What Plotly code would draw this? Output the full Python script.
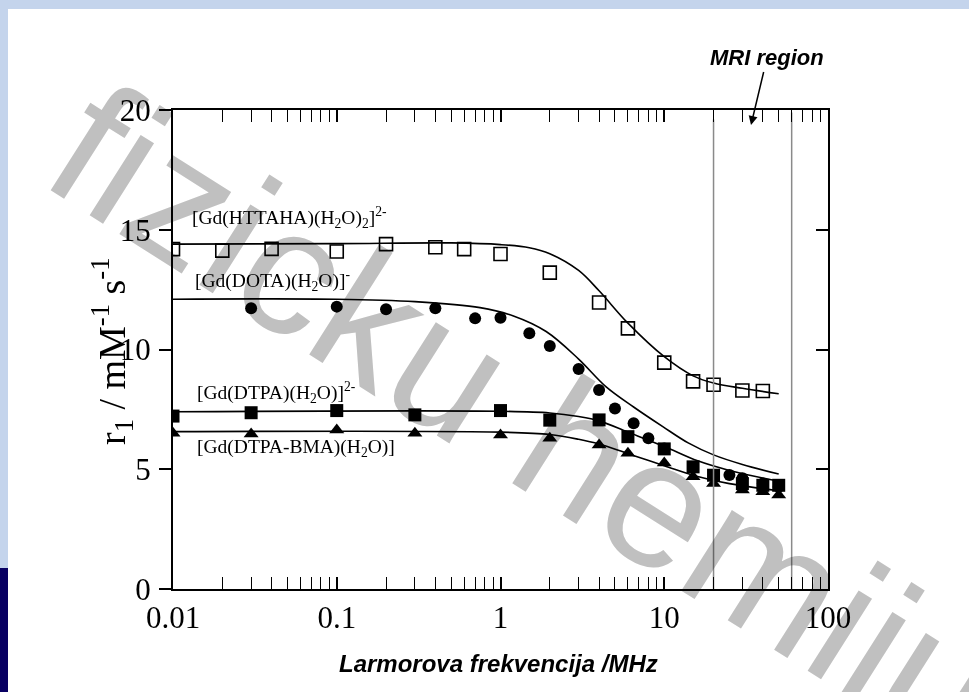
import plotly.graph_objects as go

# ---------------- data ----------------
freq_httaha = [0.01, 0.02, 0.04, 0.1, 0.2, 0.4, 0.6, 1, 2, 4, 6, 10, 15, 20, 30, 40]
r1_httaha = [14.19, 14.13, 14.2, 14.09, 14.4, 14.27, 14.19, 13.99, 13.21, 11.96, 10.88, 9.45, 8.67, 8.53, 8.29, 8.27]

freq_dota = [0.03, 0.1, 0.2, 0.4, 0.7, 1, 1.5, 2, 3, 4, 5, 6.5, 8, 10, 25, 30, 40, 50]
r1_dota = [11.72, 11.79, 11.68, 11.72, 11.3, 11.33, 10.68, 10.15, 9.19, 8.31, 7.54, 6.92, 6.29, 5.87, 4.76, 4.62, 4.41, 4.27]

freq_dtpa = [0.01, 0.03, 0.1, 0.3, 1, 2, 4, 6, 10, 15, 20, 30, 40, 50]
r1_dtpa = [7.22, 7.36, 7.45, 7.27, 7.45, 7.05, 7.06, 6.36, 5.85, 5.1, 4.75, 4.4, 4.33, 4.33]

freq_bma = [0.01, 0.03, 0.1, 0.3, 1, 2, 4, 6, 10, 15, 20, 30, 40, 50]
r1_bma = [6.5, 6.47, 6.64, 6.5, 6.43, 6.29, 6.01, 5.67, 5.26, 4.69, 4.41, 4.13, 4.06, 3.92]

# fitted curves
fit_httaha_x = [0.01, 0.1, 0.5, 1, 1.5, 2, 3, 4, 6, 10, 15, 20, 30, 50]
fit_httaha_y = [14.4, 14.42, 14.45, 14.38, 14.25, 14.0, 13.3, 12.45, 11.1, 9.7, 8.9, 8.6, 8.38, 8.15]

fit_dota_x = [0.01, 0.1, 0.3, 0.75, 1.2, 1.9, 3, 4.4, 6.5, 9.8, 14, 20, 30, 50]
fit_dota_y = [12.1, 12.1, 12.0, 11.75, 11.4, 10.75, 9.6, 8.45, 7.6, 6.78, 6.1, 5.6, 5.2, 4.8]

fit_dtpa_x = [0.01, 1, 2, 3, 4, 6, 10, 16, 25, 50]
fit_dtpa_y = [7.4, 7.42, 7.35, 7.2, 7.02, 6.55, 5.95, 5.35, 4.95, 4.5]

fit_bma_x = [0.01, 1, 2, 3, 4, 6, 10, 16, 25, 50]
fit_bma_y = [6.57, 6.55, 6.45, 6.25, 6.05, 5.65, 5.15, 4.7, 4.4, 4.1]

mri_freqs = [20, 60]
mri_top = [19.6, 19.9]

x_tickvals = [0.01, 0.1, 1, 10, 100]
x_ticktext = ["0.01", "0.1", "1", "10", "100"]
y_tickvals = [0, 5, 10, 15, 20]
y_ticktext = ["0", "5", "10", "15", "20"]

labels = ["[Gd(HTTAHA)(H<sub>2</sub>O)<sub>2</sub>]<sup>2-</sup>",
          "[Gd(DOTA)(H<sub>2</sub>O)]<sup>-</sup>",
          "[Gd(DTPA)(H<sub>2</sub>O)]<sup>2-</sup>",
          "[Gd(DTPA-BMA)(H<sub>2</sub>O)]"]

# ---------------- figure ----------------
W, H = 969, 692
L, R, T, B = 173, 828, 110, 589
pw, ph = R - L, B - T


def px(x):
    return (x - L) / pw


def py(y):
    return (B - y) / ph


SERIF = "Liberation Serif, Times New Roman, serif"
SANS = "Liberation Sans, Arial, sans-serif"

fig = go.Figure()

# MRI region vertical lines
for f, top in zip(mri_freqs, mri_top):
    fig.add_trace(go.Scatter(x=[f, f], y=[0, top], mode="lines", yaxis="y2",
                             line=dict(color="#8a8a8a", width=1.5),
                             hoverinfo="skip", showlegend=False))

line_style = dict(color="black", width=1.6, shape="spline", smoothing=1.0)
for fx, fy in [(fit_httaha_x, fit_httaha_y), (fit_dota_x, fit_dota_y),
               (fit_dtpa_x, fit_dtpa_y), (fit_bma_x, fit_bma_y)]:
    fig.add_trace(go.Scatter(x=fx, y=fy, mode="lines", line=line_style, showlegend=False))

fig.add_trace(go.Scatter(x=freq_httaha, y=r1_httaha, mode="markers", showlegend=False,
                         marker=dict(symbol="square-open", size=13, color="black",
                                     line=dict(width=1.6, color="black"))))
fig.add_trace(go.Scatter(x=freq_dota, y=r1_dota, mode="markers", showlegend=False,
                         marker=dict(symbol="circle", size=12, color="black")))
fig.add_trace(go.Scatter(x=freq_dtpa, y=r1_dtpa, mode="markers", showlegend=False,
                         marker=dict(symbol="square", size=13, color="black")))
fig.add_trace(go.Scatter(x=freq_bma, y=r1_bma, mode="markers", showlegend=False,
                         marker=dict(symbol="triangle-up", size=13, color="black")))

minor_vals = [m * 10 ** k for k in range(-2, 2) for m in range(2, 10)]

fig.update_layout(
    width=W, height=H,
    margin=dict(l=L, r=W - R, t=T, b=H - B, pad=0),
    paper_bgcolor="white", plot_bgcolor="white",
    showlegend=False,
    xaxis=dict(type="log", range=[-2, 2], tickvals=x_tickvals, ticktext=x_ticktext,
               ticks="inside", ticklen=12, tickwidth=1.5, tickcolor="black",
               showline=True, linewidth=2, linecolor="black", mirror="allticks",
               showgrid=False, zeroline=False,
               tickfont=dict(family=SERIF, size=31, color="black"),
               minor=dict(tickvals=minor_vals, ticks="inside", ticklen=6,
                          tickwidth=1.2, tickcolor="black", showgrid=False)),
    yaxis=dict(range=[0, 20], tickvals=y_tickvals, ticktext=y_ticktext,
               ticks="outside", ticklen=12, tickwidth=1.5, tickcolor="black",
               showline=True, linewidth=2, linecolor="black", mirror=True,
               showgrid=False, zeroline=False, ticklabelstandoff=2,
               tickfont=dict(family=SERIF, size=31, color="black")),
    yaxis2=dict(range=[0, 20], overlaying="y", side="right", tickvals=[5, 10, 15],
                ticks="inside", ticklen=12, tickwidth=1.5, tickcolor="black",
                showticklabels=False, showline=False, showgrid=False, zeroline=False),
)

shapes = [
    dict(type="rect", xref="paper", yref="paper", x0=px(0), x1=px(W), y0=py(0), y1=py(9),
         fillcolor="#c4d4ec", line=dict(width=0), layer="below"),
    dict(type="rect", xref="paper", yref="paper", x0=px(0), x1=px(8), y0=py(0), y1=py(568),
         fillcolor="#c4d4ec", line=dict(width=0), layer="below"),
    dict(type="rect", xref="paper", yref="paper", x0=px(0), x1=px(8), y0=py(568), y1=py(H),
         fillcolor="#080062", line=dict(width=0), layer="below"),
]
fig.update_layout(shapes=shapes)

ann = []
# watermark (drawn first so that the other texts sit on top)
ann.append(dict(x=px(527), y=py(418), xref="paper", yref="paper",
                xanchor="center", yanchor="middle",
                text="fizicku hemiju", textangle=32.4, showarrow=False,
                font=dict(family=SANS, size=180, color="#c0c0c0")))
# series labels
label_pos = [(190, 217), (193, 280), (195, 392), (195, 448)]
for text, (lx, ly) in zip(labels, label_pos):
    ann.append(dict(x=px(lx), y=py(ly), xref="paper", yref="paper", text=text,
                    showarrow=False, xanchor="left", yanchor="middle",
                    font=dict(family=SERIF, size=19.5, color="black")))
# axis titles
ann.append(dict(x=px(498), y=py(663), xref="paper", yref="paper",
                xanchor="center", yanchor="middle",
                text="<b><i>Larmorova frekvencija /MHz</i></b>", showarrow=False,
                font=dict(family=SANS, size=24, color="black")))
ann.append(dict(x=px(112), y=py(352), xref="paper", yref="paper", textangle=-90,
                xanchor="center", yanchor="middle",
                text="r<sub>1</sub> / mM<sup>-1</sup> s<sup>-1</sup>", showarrow=False,
                font=dict(family=SERIF, size=38, color="black")))
# MRI region annotation with arrow
ann.append(dict(x=px(751), y=py(125), xref="paper", yref="paper",
                text="<b><i>MRI region</i></b>", showarrow=True,
                ax=16, ay=-67, arrowhead=2, arrowsize=1.2, arrowwidth=1.5,
                arrowcolor="black",
                font=dict(family=SANS, size=22, color="black")))
fig.update_layout(annotations=ann)

post = ("setTimeout(function(){var s=document.querySelectorAll('.main-svg');"
        "for(var i=1;i<s.length;i++){s[i].style.mixBlendMode='multiply';}},0);")
fig.write_html("out.html", post_script=post)
